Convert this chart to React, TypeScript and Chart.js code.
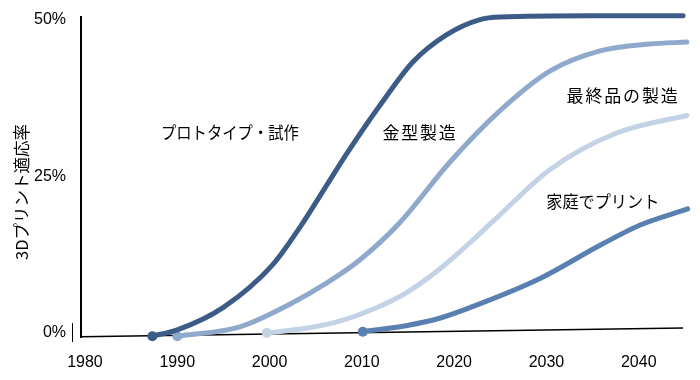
import React, { useEffect, useRef } from "react";
import { Chart, registerables } from "chart.js";

Chart.register(...registerables);

// Series: years and adoption values (%)
const protoYears = [1987.3, 1990, 1995, 2000.4, 2003.3, 2006.2, 2008.4, 2012, 2015.5, 2019.2, 2022.8, 2025, 2035, 2044.8];
const protoValues = [-0.5, 0.5, 4.1, 11.0, 16.9, 23.6, 28.7, 36.4, 43.2, 47.6, 50.0, 50.4, 50.6, 50.6];

const moldYears = [1990, 1996.8, 2002.2, 2006.2, 2009.8, 2014.1, 2019.5, 2025, 2030.4, 2035.8, 2041.2, 2045.2];
const moldValues = [-0.5, 1.0, 4.6, 8.0, 11.7, 17.6, 27.2, 35.5, 41.8, 45.0, 46.1, 46.4];

const finalYears = [1999.7, 2004.1, 2007.6, 2011.2, 2014.9, 2018.5, 2021.7, 2024.2, 2030.4, 2037.6, 2045.2];
const finalValues = [0, 0.8, 1.9, 3.8, 6.5, 10.3, 14.4, 17.8, 26.1, 31.9, 34.7];

const homeYears = [2010.1, 2014.9, 2018.5, 2022.5, 2029.3, 2035.8, 2040.1, 2045.3];
const homeValues = [0.2, 1.2, 2.4, 4.5, 8.7, 14.0, 17.2, 19.8];

// slightly tilted baseline (x axis)
const baselineYears = [1979.6, 2044.8];
const baselineValues = [-0.6, 0.8];

const xTickYears = [1980, 1990, 2000, 2010, 2020, 2030, 2040];
const yTickValues = [0, 25, 50];

const seriesLabels = ["プロトタイプ・試作", "金型製造", "最終品の製造", "家庭でプリント"];
const labelYears = [1995.7, 2016.3, 2038.3, 2036.1];
const labelValues = [31.9, 31.9, 37.9, 20.9];
const labelWidths = [138, 75, 113, 113];

const yTitle = "3Dプリント適応率";

const colors = ["#3c5c87", "#8fa9cc", "#c3d2e5", "#5a7fb1"];

const toPoints = (xs: number[], ys: number[]) => xs.map((x, i) => ({ x, y: ys[i] }));

const jpFont = '"Noto Sans CJK JP", "Noto Sans", sans-serif';
const numFont = '"Liberation Sans", Arial, sans-serif';

const annotPlugin = {
  id: "annot",
  afterDatasetsDraw(chart: any) {
    const { ctx, scales } = chart;
    const x = scales.x;
    const y = scales.y;
    ctx.save();
    ctx.fillStyle = "#000";
    ctx.textAlign = "center";
    ctx.textBaseline = "middle";
    ctx.font = `17px ${jpFont}`;
    seriesLabels.forEach((t, i) => {
      ctx.letterSpacing = "0px";
      const w = ctx.measureText(t).width;
      const px = x.getPixelForValue(labelYears[i]);
      const py = y.getPixelForValue(labelValues[i]);
      if (w < labelWidths[i]) {
        ctx.letterSpacing = `${(labelWidths[i] - w) / t.length}px`;
        ctx.fillText(t, px, py);
      } else {
        ctx.fillText(t, px, py, labelWidths[i]);
      }
    });
    ctx.letterSpacing = "0px";
    // y-axis title
    ctx.save();
    ctx.translate(22, y.getPixelForValue(22.5));
    ctx.rotate(-Math.PI / 2);
    ctx.font = `16.5px ${jpFont}`;
    ctx.fillText(yTitle, 0, 0);
    ctx.restore();
    // small mark next to 0%
    ctx.strokeStyle = "#000";
    ctx.lineWidth = 1;
    const y0 = y.getPixelForValue(0);
    ctx.beginPath();
    ctx.moveTo(72.5, y0 - 10);
    ctx.lineTo(72.5, y0 + 9);
    ctx.stroke();
    ctx.restore();
  },
};

export default function App() {
  const ref = useRef<HTMLCanvasElement | null>(null);

  useEffect(() => {
    document.body.style.margin = "0";
    const canvas = ref.current;
    if (!canvas) return;
    const mk = (pts: { x: number; y: number }[], color: string, width: number) => ({
      data: pts,
      borderColor: color,
      backgroundColor: color,
      borderWidth: width,
      borderCapStyle: "round" as const,
      cubicInterpolationMode: "monotone" as const,
      pointRadius: (c: any) => (c.dataIndex === 0 ? 5 : 0),
      pointBorderWidth: 0,
      pointBackgroundColor: color,
      clip: false as const,
    });
    const chart = new Chart(canvas, {
      type: "line",
      data: {
        datasets: [
          mk(toPoints(protoYears, protoValues), colors[0], 5),
          mk(toPoints(moldYears, moldValues), colors[1], 5),
          mk(toPoints(finalYears, finalValues), colors[2], 5),
          mk(toPoints(homeYears, homeValues), colors[3], 5),
          {
            data: toPoints(baselineYears, baselineValues),
            borderColor: "#000",
            borderWidth: 1.6,
            pointRadius: 0,
            tension: 0,
            clip: false as const,
          },
        ],
      },
      options: {
        animation: false,
        responsive: false,
        maintainAspectRatio: false,
        layout: { padding: { top: 12, right: 10, left: 0, bottom: 0 } },
        plugins: { legend: { display: false }, tooltip: { enabled: false } },
        scales: {
          x: {
            type: "linear",
            min: 1979.57,
            max: 2045.55,
            grid: { display: false },
            border: { display: false },
            afterBuildTicks: (s: any) => {
              s.ticks = xTickYears.map((v) => ({ value: v }));
            },
            afterFit: (s: any) => {
              s.height = 43;
            },
            ticks: {
              color: "#000",
              padding: 8,
              maxRotation: 0,
              autoSkip: false,
              font: { family: numFont, size: 16 },
              callback: (v: any) => String(v),
            },
          },
          y: {
            type: "linear",
            min: -0.63,
            max: 50.47,
            grid: { display: false },
            border: { display: true, color: "#000", width: 2 },
            afterBuildTicks: (s: any) => {
              s.ticks = yTickValues.map((v) => ({ value: v }));
            },
            afterFit: (s: any) => {
              s.width = 81;
            },
            ticks: {
              color: "#000",
              padding: 7,
              autoSkip: false,
              font: { family: numFont, size: 16 },
              callback: (v: any) => `${v}%`,
            },
          },
        },
      },
      plugins: [annotPlugin],
    });
    return () => chart.destroy();
  }, []);

  return (
    <div style={{ width: 700, height: 380, background: "#fff" }}>
      <canvas ref={ref} width={700} height={380} style={{ display: "block" }} />
    </div>
  );
}
